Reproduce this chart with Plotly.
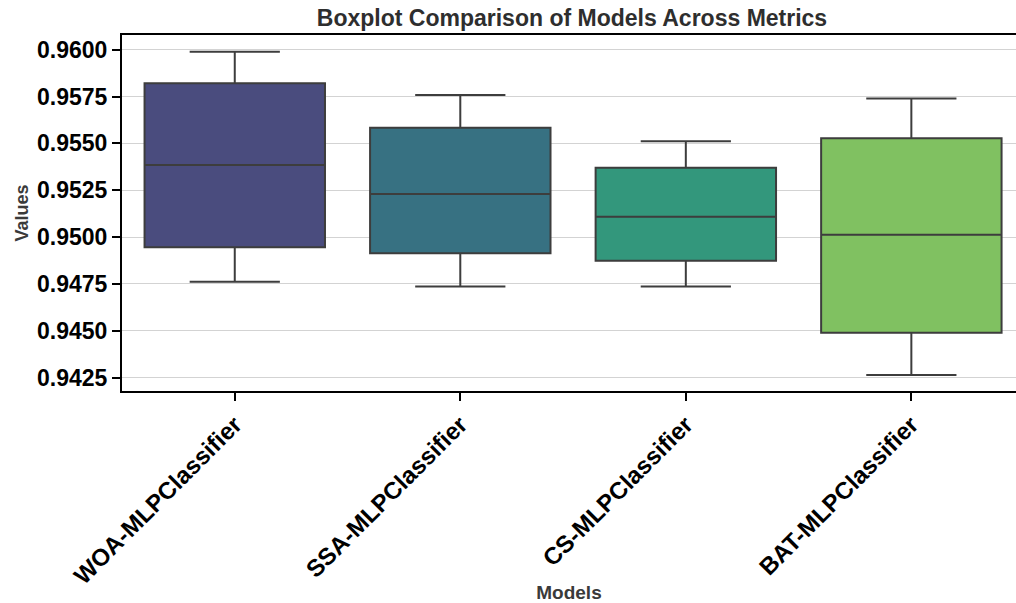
import plotly.graph_objects as go

models = ["WOA-MLPClassifier", "SSA-MLPClassifier", "CS-MLPClassifier", "BAT-MLPClassifier"]
lower_fence = [0.94762, 0.94736, 0.94736, 0.94264]
q1 = [0.94946, 0.94914, 0.94874, 0.94490]
median = [0.95385, 0.95230, 0.95109, 0.95013]
q3 = [0.95821, 0.95584, 0.95370, 0.95527]
upper_fence = [0.95989, 0.95758, 0.95511, 0.95739]
colors = ["#4a4c7e", "#377182", "#33977c", "#80c161"]
y_ticks = [0.9425, 0.9450, 0.9475, 0.9500, 0.9525, 0.9550, 0.9575, 0.9600]

FONT = "Liberation Sans, Arial, sans-serif"
LINE = "#3d3d3d"

fig = go.Figure()
for i, m in enumerate(models):
    fig.add_trace(go.Box(
        x=[i],
        q1=[q1[i]], median=[median[i]], q3=[q3[i]],
        lowerfence=[lower_fence[i]], upperfence=[upper_fence[i]],
        width=0.8, whiskerwidth=0.5,
        fillcolor=colors[i],
        line=dict(color=LINE, width=2),
        boxpoints=False,
        name=m, showlegend=False,
    ))

fig.update_layout(
    width=1016, height=603,
    margin=dict(l=122, r=0, t=35, b=212),
    paper_bgcolor="white", plot_bgcolor="white",
    title=dict(text="<b>Boxplot Comparison of Models Across Metrics</b>",
               x=572 / 1016, xanchor="center", y=1 - 18 / 603, yanchor="middle",
               font=dict(family=FONT, size=23, color="#2e2e2e")),
    font=dict(family=FONT),
)
fig.update_xaxes(
    automargin=False,
    range=[-0.5, 3.464],
    tickmode="array", tickvals=list(range(len(models))),
    ticktext=[f"<b>{m}</b>" for m in models],
    tickangle=-45, tickfont=dict(size=24, color="black"),
    ticks="outside", ticklen=8, tickwidth=2, tickcolor="black",
    showline=True, linecolor="black", linewidth=2, mirror=True,
    showgrid=False, zeroline=False,
    title=dict(text="<b>Models</b>", font=dict(size=19, color="#3a3a3a"), standoff=14),
)
fig.update_yaxes(
    automargin=False,
    range=[0.94179, 0.960784],
    tickmode="array", tickvals=y_ticks,
    ticktext=[f"<b>{v:.4f}</b>" for v in y_ticks],
    tickfont=dict(size=23, color="black"),
    ticks="outside", ticklen=8, tickwidth=2, tickcolor="black",
    showline=True, linecolor="black", linewidth=2,
    showgrid=True, gridcolor="#d3d3d3", gridwidth=1.2, zeroline=False,
    title=dict(text="<b>Values</b>", font=dict(size=18, color="#3a3a3a"), standoff=4),
)

fig.write_html("out.html")
